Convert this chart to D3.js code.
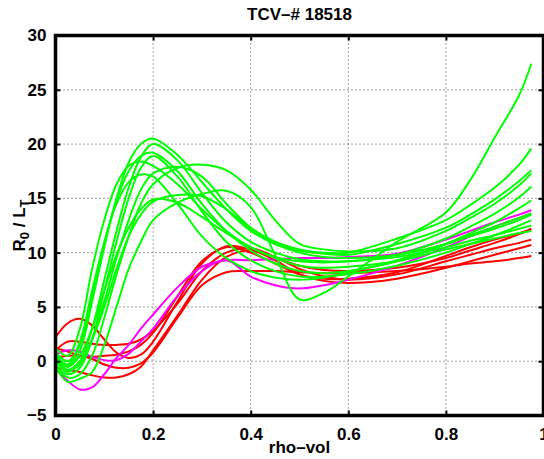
<!DOCTYPE html>
<html>
<head>
<meta charset="utf-8">
<script src="https://cdn.jsdelivr.net/npm/d3@7"></script>
<style>
  html, body { margin: 0; padding: 0; background: #fff; }
  svg { display: block; }
  text { font-family: "Liberation Sans", Arial, Helvetica, sans-serif; font-weight: bold; }
</style>
</head>
<body>
<svg id="chart" width="544" height="459"></svg>
<script>
// ---------- data ----------
const title = "TCV\u2013# 18518";
const xLabel = "rho\u2013vol";
const xTicks = [0, 0.2, 0.4, 0.6, 0.8, 1];
const xTickLabels = ["0", "0.2", "0.4", "0.6", "0.8", "1"];
const yTicks = [-5, 0, 5, 10, 15, 20, 25, 30];
const yTickLabels = ["\u22125", "0", "5", "10", "15", "20", "25", "30"];

const rho = [0, 0.025, 0.05, 0.075, 0.1, 0.125, 0.15, 0.175, 0.2, 0.25, 0.3, 0.35, 0.4, 0.45, 0.5, 0.55, 0.6, 0.7, 0.8, 0.85, 0.9, 0.95, 0.975];

const redSeries = [
  [2.2, 3.5, 3.9, 3.3, 2.0, 0.8, 0.3, 0.6, 1.8, 5.5, 9.0, 10.6, 10.3, 9.5, 8.8, 8.4, 8.3, 8.6, 9.5, 10.2, 10.9, 11.7, 12.2],
  [1.0, 1.8, 1.8, 1.6, 1.5, 1.5, 1.6, 2.0, 2.8, 5.3, 8.3, 10.0, 10.4, 9.6, 8.5, 7.8, 7.5, 8.0, 9.2, 9.8, 10.4, 10.9, 11.2],
  [-0.6, -0.8, -1.0, -1.3, -1.5, -1.5, -1.2, -0.5, 1.0, 4.2, 7.5, 9.6, 10.2, 9.3, 8.0, 7.4, 7.2, 7.6, 8.6, 9.2, 9.8, 10.4, 10.7],
  [0.3, 0.5, 0.5, 0.2, -0.3, -0.6, -0.6, -0.2, 0.8, 4.0, 7.0, 8.2, 8.3, 8.3, 8.2, 8.1, 8.1, 8.3, 8.7, 9.0, 9.2, 9.5, 9.7],
  [1.2, 0.9, 0.5, 0.4, 0.5, 0.6, 0.9, 1.5, 2.6, 6.0, 9.2, 10.5, 10.0, 9.0, 8.0, 7.6, 7.6, 8.2, 9.7, 10.5, 11.2, 11.8, 12.1]
];

const magentaSeries = [
  [-0.7, -1.8, -2.6, -2.4, -1.2, 0.3, 1.5, 3.0, 4.3, 6.8, 8.7, 9.3, 9.3, 9.4, 9.5, 9.5, 9.6, 9.9, 11.2, 12.0, 12.8, 13.5, 13.9],
  [0.6, 1.0, 0.9, 0.4, 0.1, 0.1, 0.7, 1.8, 3.0, 6.0, 8.3, 9.3, 7.8, 7.0, 6.7, 7.0, 7.5, 8.8, 10.5, 11.5, 12.4, 13.2, 13.6]
];

const greenSeries = [
  [0.5, -0.5, 1.0, 5.5, 10.5, 15.0, 18.3, 20.0, 20.5, 19.0, 16.5, 14.0, 12.0, 10.8, 10.2, 9.9, 9.8, 10.8, 12.3, 13.5, 14.9, 16.6, 17.6],
  [0.0, -1.0, 0.0, 3.0, 7.5, 12.0, 16.0, 18.8, 20.0, 18.5, 15.5, 12.8, 11.0, 10.0, 9.4, 9.2, 9.2, 9.8, 11.3, 12.4, 13.6, 15.1, 16.1],
  [0.8, 0.0, 1.5, 6.0, 10.8, 14.8, 17.5, 18.9, 19.2, 17.5, 14.5, 12.0, 10.2, 9.0, 8.3, 8.1, 8.3, 9.2, 10.8, 11.8, 12.8, 14.1, 14.8],
  [-0.5, -1.2, -0.6, 2.0, 6.5, 11.0, 15.0, 17.8, 18.9, 17.0, 13.8, 11.0, 9.3, 8.3, 7.8, 7.8, 8.0, 8.8, 10.0, 10.8, 11.6, 12.5, 13.0],
  [1.2, 0.5, 3.0, 8.5, 13.0, 16.3, 18.0, 18.4, 18.0, 16.3, 14.0, 12.0, 10.5, 9.6, 9.2, 9.1, 9.2, 9.6, 10.5, 11.1, 11.6, 12.2, 12.5],
  [0.2, -0.8, -0.3, 2.0, 5.5, 9.5, 13.0, 15.8, 17.3, 17.9, 17.0, 14.5, 12.3, 11.0, 10.3, 10.0, 10.0, 11.3, 13.0, 14.4, 16.0, 18.1, 19.6],
  [-0.3, -1.5, -1.2, 0.5, 4.0, 8.0, 11.5, 14.5, 16.3, 17.8, 18.1, 17.6, 15.8, 13.0, 10.8, 10.3, 10.1, 10.4, 12.0, 13.2, 14.5, 16.2, 17.3],
  [0.0, -0.8, 0.0, 2.0, 5.0, 8.5, 11.5, 13.5, 14.7, 15.3, 15.2, 14.0, 12.2, 10.8, 10.0, 9.6, 9.5, 9.8, 10.8, 11.5, 12.2, 13.0, 13.5],
  [-0.5, -1.9, -1.6, -1.0, 1.5, 5.0, 8.5, 11.0, 13.0, 14.6, 15.4, 15.7, 14.2, 9.8, 5.7, 6.3, 7.8, 11.0, 13.7, 16.7, 20.6, 24.5, 27.4],
  [0.3, -0.5, 0.5, 3.0, 6.5, 9.8, 12.3, 14.0, 14.9, 14.6, 13.3, 11.8, 10.5, 9.5, 8.8, 8.6, 8.7, 9.2, 10.3, 10.8, 11.3, 11.8, 12.0],
  [0.6, -0.3, 1.8, 6.5, 11.0, 14.5, 16.5, 17.2, 17.0, 14.5, 11.5, 9.5, 8.3, 7.7, 7.5, 7.7, 8.2, 9.3, 10.8, 11.6, 12.4, 13.2, 13.6]
];

// ---------- layout ----------
const svg = d3.select("#chart");
const L = 55.5, R = 543.5, T = 35.5, B = 415.5;
const x = d3.scaleLinear().domain([0, 1]).range([L, R]);
const y = d3.scaleLinear().domain([-5, 30]).range([B, T]);

svg.append("defs").append("clipPath").attr("id", "clip")
  .append("rect").attr("x", L).attr("y", T).attr("width", R - L).attr("height", B - T);

// grid (dotted)
const grid = svg.append("g");
xTicks.filter(v => v > 0 && v < 1).forEach(v => {
  grid.append("line").attr("x1", x(v)).attr("x2", x(v)).attr("y1", T).attr("y2", B)
    .attr("stroke", "#444").attr("stroke-width", 1).attr("stroke-dasharray", "1,3");
});
yTicks.filter(v => v > -5 && v < 30).forEach(v => {
  grid.append("line").attr("x1", L).attr("x2", R).attr("y1", y(v)).attr("y2", y(v))
    .attr("stroke", "#444").attr("stroke-width", 1).attr("stroke-dasharray", "1,3");
});

// lines
const line = d3.line().x((d, i) => x(rho[i])).y(d => y(d)).curve(d3.curveCatmullRom.alpha(0.5));
const plot = svg.append("g").attr("clip-path", "url(#clip)");
function drawSet(set, color) {
  plot.selectAll(null).data(set).enter().append("path")
    .attr("d", d => line(d)).attr("fill", "none")
    .attr("stroke", color).attr("stroke-width", 2).attr("stroke-linejoin", "round");
}
drawSet(redSeries, "#ff0000");
drawSet(magentaSeries, "#ff00ff");
drawSet(greenSeries, "#00ff00");

// axes (ticks inward)
const tl = 5;
const xb = d3.axisBottom(x).tickValues(xTicks).tickSize(-tl).tickFormat((d, i) => xTickLabels[i]).tickPadding(12);
const xt = d3.axisTop(x).tickValues(xTicks).tickSize(-tl).tickFormat("");
const yl = d3.axisLeft(y).tickValues(yTicks).tickSize(-tl).tickFormat((d, i) => yTickLabels[i]).tickPadding(9);
const yr = d3.axisRight(y).tickValues(yTicks).tickSize(-tl).tickFormat("");

function styleAxis(g) {
  g.select(".domain").remove();
  g.selectAll(".tick line").attr("stroke", "#000").attr("stroke-width", 2);
  g.selectAll(".tick text").attr("fill", "#000").attr("font-size", 17)
    .attr("font-family", "Liberation Sans, Arial, sans-serif").attr("font-weight", "bold");
}
svg.append("g").attr("transform", `translate(0,${B})`).call(xb).call(styleAxis);
svg.append("g").attr("transform", `translate(0,${T})`).call(xt).call(styleAxis);
svg.append("g").attr("transform", `translate(${L},0)`).call(yl).call(styleAxis);
svg.append("g").attr("transform", `translate(${R},0)`).call(yr).call(styleAxis);

// box
svg.append("rect").attr("x", L).attr("y", T).attr("width", R - L).attr("height", B - T)
  .attr("fill", "none").attr("stroke", "#000").attr("stroke-width", 3.5);

// title
svg.append("text").attr("x", (L + R) / 2).attr("y", 20).attr("text-anchor", "middle")
  .attr("font-size", 17).text(title);

// x label
svg.append("text").attr("x", (L + R) / 2).attr("y", 453).attr("text-anchor", "middle")
  .attr("font-size", 17).text(xLabel);

// y label with subscripts
const ylab = svg.append("text").attr("transform", `translate(25,${(T + B) / 2}) rotate(-90)`)
  .attr("text-anchor", "middle").attr("font-size", 17);
ylab.append("tspan").text("R");
ylab.append("tspan").attr("font-size", 13).attr("dy", 4).text("0");
ylab.append("tspan").attr("dy", -4).text(" / L");
ylab.append("tspan").attr("font-size", 13).attr("dy", 4).text("T");
</script>
</body>
</html>
